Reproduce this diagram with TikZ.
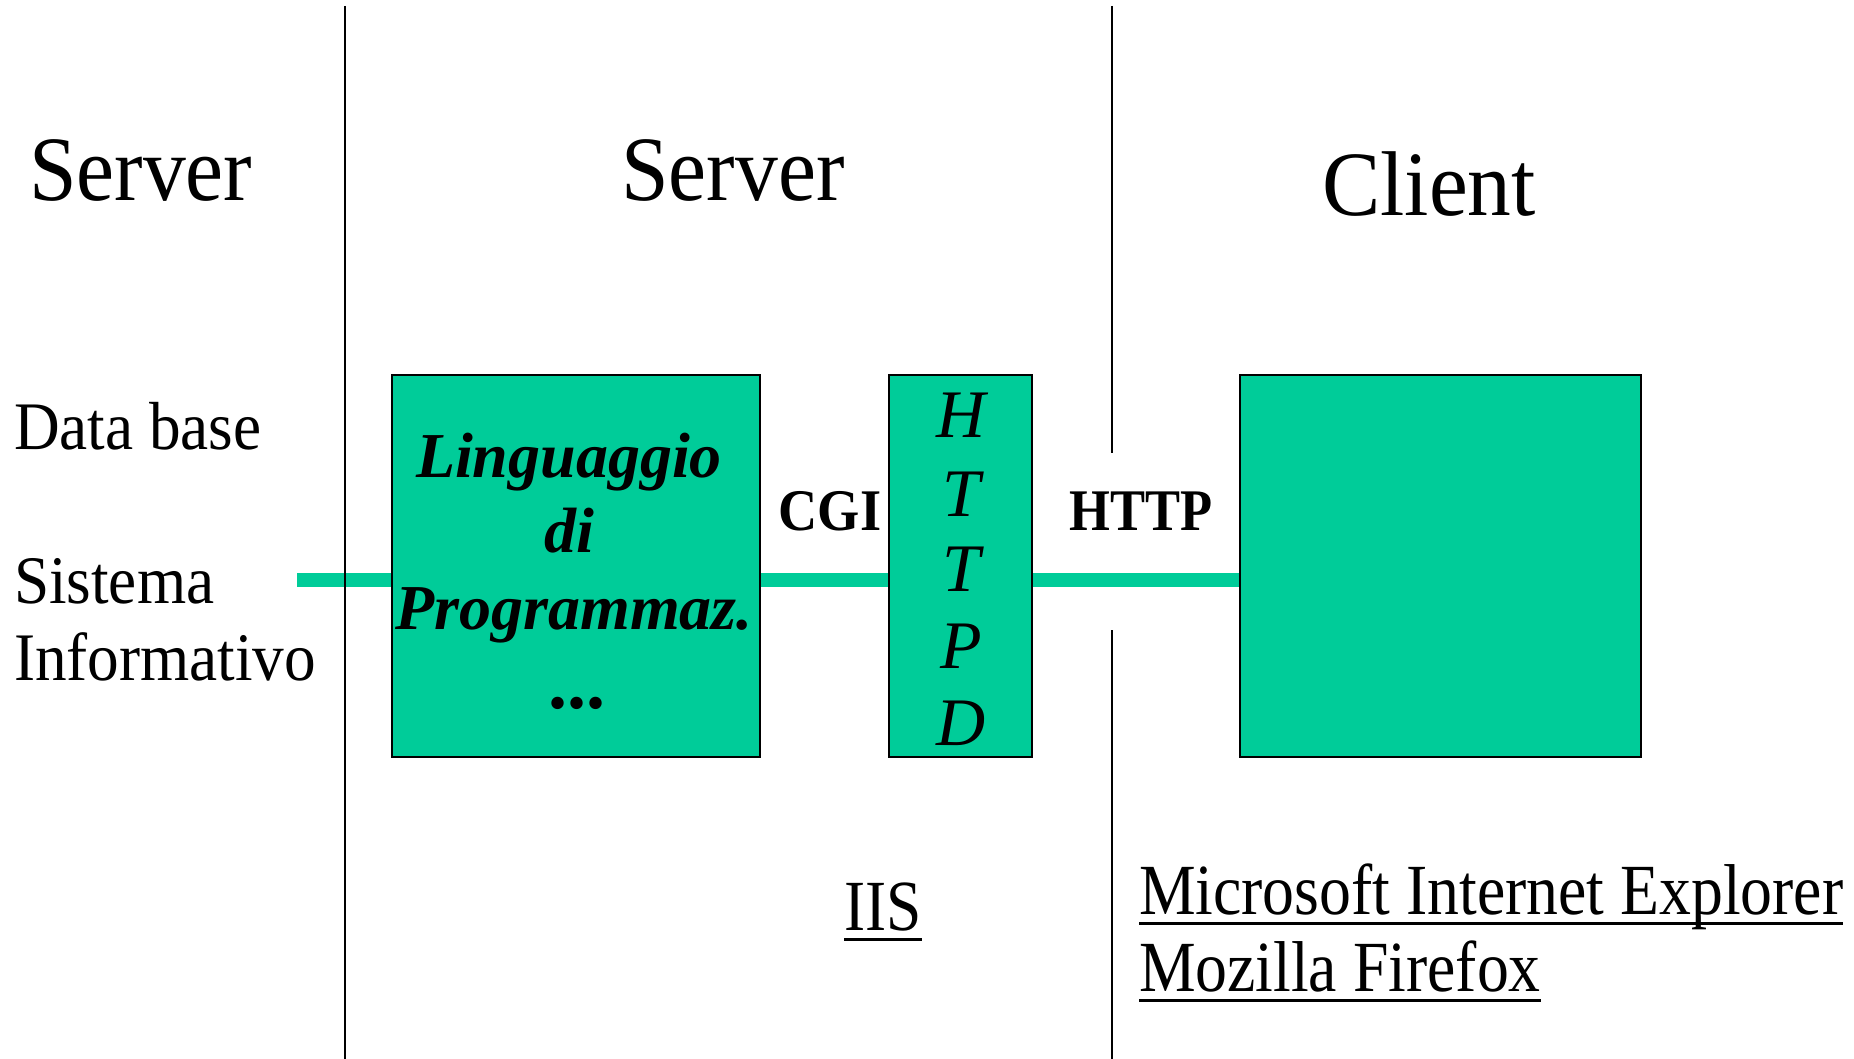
\documentclass[tikz,border=0pt]{standalone}
\usepackage{fontspec}
\setmainfont{Liberation Serif}
\definecolor{teal1}{RGB}{0,204,153}
\tikzset{
  every node/.style={inner sep=0pt, outer sep=0pt},
  sep/.style={line width=2pt, black},
  gbox/.style={draw=black, line width=2.5pt, fill=teal1},
  link/.style={line width=14pt, teal1},
  ul/.style={line width=3pt, black},
}
\newcommand{\fs}[1]{\fontsize{#1}{#1}\selectfont}
\begin{document}
\begin{tikzpicture}[x=1pt,y=-1pt]
\useasboundingbox[fill=white] (0,0) rectangle (1854,1059);
% boxes as nodes
\node[gbox, minimum width=368pt, minimum height=382pt] (b1) at (576,566) {};
\node[gbox, minimum width=143pt, minimum height=382pt] (b2) at (960.5,566) {};
\node[gbox, minimum width=401pt, minimum height=382pt] (b3) at (1440.5,566) {};
\coordinate (lend) at (297,580);
% links
\draw[link] (lend) -- (lend -| b1.west);
\draw[link] ([yshift=-14pt]b1.east) -- ([yshift=-14pt]b2.west);
\draw[link] ([yshift=-14pt]b2.east) -- ([yshift=-14pt]b3.west);
% redraw boxes over links
\node[gbox, minimum width=368pt, minimum height=382pt] at (b1) {};
\node[gbox, minimum width=143pt, minimum height=382pt] at (b2) {};
\node[gbox, minimum width=401pt, minimum height=382pt] at (b3) {};
% separators
\coordinate (s1t) at (345,6);
\coordinate (s1b) at (345,1059);
\coordinate (s2t) at (1112,6);
\coordinate (s2m) at (1112,453);
\coordinate (s2n) at (1112,630);
\coordinate (s2b) at (1112,1059);
\draw[sep] (s1t) -- (s1b);
\draw[sep] (s2t) -- (s2m);
\draw[sep] (s2n) -- (s2b);
% titles
\node[anchor=base west] (t1) at (29,201) {\fs{92}\scalebox{0.93}[1]{Server}};
\node[anchor=base] (t2) at (733,201) {\fs{92}\scalebox{0.93}[1]{Server}};
\node[anchor=base] (t3) at (1429,216) {\fs{92}\scalebox{0.95}[1]{Client}};
% left labels
\node[anchor=base west] (db) at (14,449) {\fs{68}\scalebox{0.93}[1]{Data base}};
\node[anchor=base west] (si1) at (14,603) {\fs{68}\scalebox{0.93}[1]{Sistema}};
\node[anchor=base west] (si2) at (14,680) {\fs{68}\scalebox{0.93}[1]{Informativo}};
% box1 text
\node[anchor=base] (l1) at (569,477) {\fs{64}\bfseries\itshape Linguaggio};
\node[anchor=base] (l2) at (569,552) {\fs{64}\bfseries\itshape di};
\node[anchor=base] (l3) at (574,629) {\fs{64}\bfseries\itshape Programmaz.};
\node[anchor=base] (l4) at (577,708) {\fs{76}\bfseries ...};
% HTTPD
\node[anchor=base] (h1) at (961,437) {\fs{68}\itshape H};
\node[anchor=base] (h2) at (961,516) {\fs{68}\itshape T};
\node[anchor=base] (h3) at (961,591) {\fs{68}\itshape T};
\node[anchor=base] (h4) at (961,668) {\fs{68}\itshape P};
\node[anchor=base] (h5) at (961,745) {\fs{68}\itshape D};
% link labels
\node[anchor=base] (cgi) at (830,530) {\fs{59}\bfseries\scalebox{0.92}[1]{CGI}};
\node[anchor=base] (http) at (1141,530) {\fs{59}\bfseries\scalebox{0.89}[1]{HTTP}};
% bottom labels
\node[anchor=base] (iis) at (883,930) {\fs{72}\scalebox{0.88}[1]{IIS}};
\node[anchor=base west] (ie) at (1139,914) {\fs{72}\scalebox{0.885}[1]{Microsoft Internet Explorer}};
\node[anchor=base west] (ff) at (1139,991) {\fs{72}\scalebox{0.885}[1]{Mozilla Firefox}};
\draw[ul] ([yshift=-9pt]iis.base west) -- ([yshift=-9pt]iis.base east);
\draw[ul] ([yshift=-9pt]ie.base west) -- ([yshift=-9pt]ie.base east);
\draw[ul] ([yshift=-9pt]ff.base west) -- ([yshift=-9pt]ff.base east);
\end{tikzpicture}
\end{document}
